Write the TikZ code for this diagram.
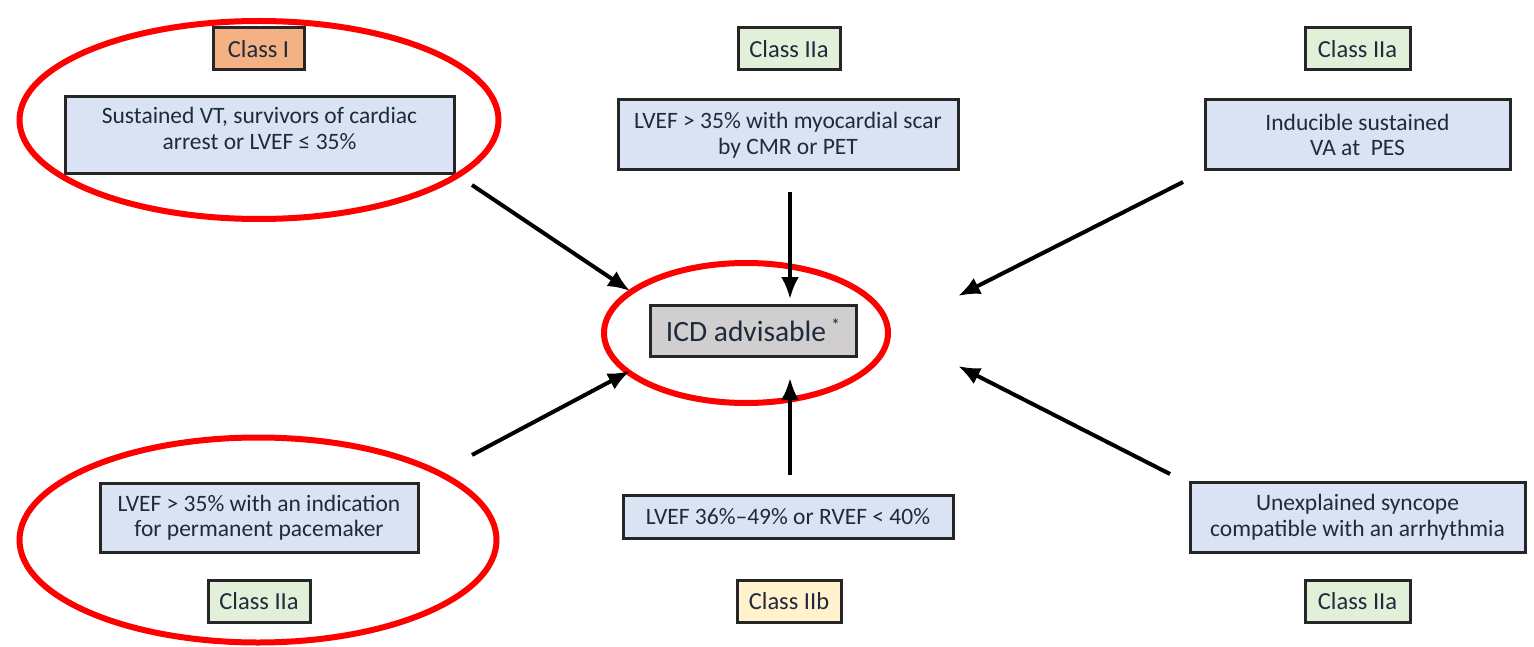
\documentclass[tikz,border=0pt]{standalone}
\usepackage{fontspec}
\setmainfont{Carlito}
\usetikzlibrary{arrows.meta,shapes.geometric}
\definecolor{cOrange}{HTML}{F4B183}
\definecolor{cGreen}{HTML}{E2F0D9}
\definecolor{cBlue}{HTML}{DAE3F3}
\definecolor{cYellow}{HTML}{FFF2CC}
\definecolor{cGray}{HTML}{D0CECE}
\definecolor{cText}{HTML}{1F2A3C}
\definecolor{cRed}{HTML}{FF0000}
\begin{document}
\begin{tikzpicture}[x=1pt,y=-1pt,
  boxbase/.style={draw=black!85, line width=3pt, text=cText, align=center, inner sep=0pt},
  classbox/.style={boxbase, minimum width=100pt, minimum height=42pt, font=\fontsize{24.5}{28}\selectfont},
  critbox/.style={boxbase, fill=cBlue, font=\fontsize{23.5}{25.5}\selectfont},
  ring/.style={draw=cRed, line width=6pt, ellipse, inner sep=0pt},
  arr/.style={line width=4pt, -{Latex[length=22pt,width=18pt]}}]
\useasboundingbox (0,0) rectangle (1534,647);
% class labels
\node[classbox, fill=cOrange, minimum width=91pt] (c1) at (258.5,49) {Class I};
\node[classbox, fill=cGreen, minimum width=102pt] (c2) at (789,49) {Class IIa};
\node[classbox, fill=cGreen, minimum width=105pt] (c3) at (1357.5,49) {Class IIa};
\node[classbox, fill=cGreen, minimum width=102pt] (c4) at (259,601) {Class IIa};
\node[classbox, fill=cYellow, minimum width=104pt] (c5) at (789,601.5) {Class IIb};
\node[classbox, fill=cGreen, minimum width=105pt] (c6) at (1357.5,601) {Class IIa};
% criteria boxes
\node[critbox, minimum width=389pt, minimum height=77pt] (b1) at (259.5,135.5) {Sustained VT, survivors of cardiac\\arrest or LVEF ≤ 35\%\\[-11pt]};
\node[critbox, minimum width=340pt, minimum height=70pt] (b2) at (788,135) {LVEF > 35\% with myocardial scar\\by CMR or PET};
\node[critbox, minimum width=305pt, minimum height=70pt] (b3) at (1357.5,135) {Inducible sustained\\VA at~ PES};
\node[critbox, minimum width=318pt, minimum height=69pt] (b4) at (259,517.5) {LVEF > 35\% with an indication\\for permanent pacemaker};
\node[critbox, minimum width=330pt, minimum height=43pt] (b5) at (788,516.5) {LVEF 36\%–49\% or RVEF < 40\%};
\node[critbox, minimum width=335pt, minimum height=70pt] (b6) at (1357.5,517) {Unexplained syncope\\compatible with an arrhythmia};
% centre
\node[boxbase, fill=cGray, minimum width=206pt, minimum height=51pt, font=\fontsize{29.5}{33}\selectfont] (icd) at (753,330.5) {ICD advisable\,\raisebox{10pt}{\fontsize{18}{20}\selectfont *}};
% red ellipses
\node[ring, minimum width=284pt, minimum height=140pt] (r0) at (746,333) {};
\node[ring, minimum width=479pt, minimum height=198pt] (r1) at (259,120) {};
\node[ring, minimum width=477pt, minimum height=205pt] (r2) at (258,540) {};
% arrow ends
\coordinate (s1) at (472,185); \coordinate (e1) at (630,291);
\coordinate (s2) at (790,192); \coordinate (e2) at (790,299);
\coordinate (s3) at (1183,182); \coordinate (e3) at (958,296);
\coordinate (s4) at (472,455); \coordinate (e4) at (630,371);
\coordinate (s5) at (790,475); \coordinate (e5) at (790,378);
\coordinate (s6) at (1170,474); \coordinate (e6) at (958,366);
\draw[arr] (s1) -- (e1);
\draw[arr] (s2) -- (e2);
\draw[arr] (s3) -- (e3);
\draw[arr] (s4) -- (e4);
\draw[arr] (s5) -- (e5);
\draw[arr] (s6) -- (e6);
\end{tikzpicture}
\end{document}
